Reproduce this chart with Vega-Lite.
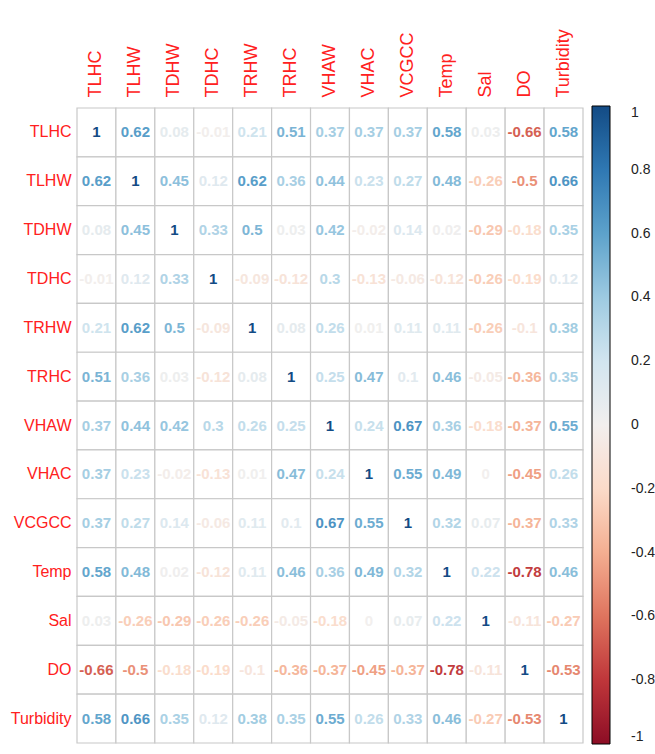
{
  "$schema": "https://vega.github.io/schema/vega-lite/v6.json",
  "autosize": "none",
  "width": 506,
  "height": 635,
  "padding": {"left": 77, "top": 108, "right": 72, "bottom": 11},
  "background": "white",
  "config": {
    "view": {"stroke": null},
    "locale": {"number": {"decimal": ".", "thousands": ",", "grouping": [3], "currency": ["$", ""], "minus": "-"}}
  },
  "data": {"values": [
    {"row":"TLHC","col":"TLHC","r":1},{"row":"TLHC","col":"TLHW","r":0.62},{"row":"TLHC","col":"TDHW","r":0.08},{"row":"TLHC","col":"TDHC","r":-0.01},{"row":"TLHC","col":"TRHW","r":0.21},{"row":"TLHC","col":"TRHC","r":0.51},{"row":"TLHC","col":"VHAW","r":0.37},{"row":"TLHC","col":"VHAC","r":0.37},{"row":"TLHC","col":"VCGCC","r":0.37},{"row":"TLHC","col":"Temp","r":0.58},{"row":"TLHC","col":"Sal","r":0.03},{"row":"TLHC","col":"DO","r":-0.66},{"row":"TLHC","col":"Turbidity","r":0.58},
    {"row":"TLHW","col":"TLHC","r":0.62},{"row":"TLHW","col":"TLHW","r":1},{"row":"TLHW","col":"TDHW","r":0.45},{"row":"TLHW","col":"TDHC","r":0.12},{"row":"TLHW","col":"TRHW","r":0.62},{"row":"TLHW","col":"TRHC","r":0.36},{"row":"TLHW","col":"VHAW","r":0.44},{"row":"TLHW","col":"VHAC","r":0.23},{"row":"TLHW","col":"VCGCC","r":0.27},{"row":"TLHW","col":"Temp","r":0.48},{"row":"TLHW","col":"Sal","r":-0.26},{"row":"TLHW","col":"DO","r":-0.5},{"row":"TLHW","col":"Turbidity","r":0.66},
    {"row":"TDHW","col":"TLHC","r":0.08},{"row":"TDHW","col":"TLHW","r":0.45},{"row":"TDHW","col":"TDHW","r":1},{"row":"TDHW","col":"TDHC","r":0.33},{"row":"TDHW","col":"TRHW","r":0.5},{"row":"TDHW","col":"TRHC","r":0.03},{"row":"TDHW","col":"VHAW","r":0.42},{"row":"TDHW","col":"VHAC","r":-0.02},{"row":"TDHW","col":"VCGCC","r":0.14},{"row":"TDHW","col":"Temp","r":0.02},{"row":"TDHW","col":"Sal","r":-0.29},{"row":"TDHW","col":"DO","r":-0.18},{"row":"TDHW","col":"Turbidity","r":0.35},
    {"row":"TDHC","col":"TLHC","r":-0.01},{"row":"TDHC","col":"TLHW","r":0.12},{"row":"TDHC","col":"TDHW","r":0.33},{"row":"TDHC","col":"TDHC","r":1},{"row":"TDHC","col":"TRHW","r":-0.09},{"row":"TDHC","col":"TRHC","r":-0.12},{"row":"TDHC","col":"VHAW","r":0.3},{"row":"TDHC","col":"VHAC","r":-0.13},{"row":"TDHC","col":"VCGCC","r":-0.06},{"row":"TDHC","col":"Temp","r":-0.12},{"row":"TDHC","col":"Sal","r":-0.26},{"row":"TDHC","col":"DO","r":-0.19},{"row":"TDHC","col":"Turbidity","r":0.12},
    {"row":"TRHW","col":"TLHC","r":0.21},{"row":"TRHW","col":"TLHW","r":0.62},{"row":"TRHW","col":"TDHW","r":0.5},{"row":"TRHW","col":"TDHC","r":-0.09},{"row":"TRHW","col":"TRHW","r":1},{"row":"TRHW","col":"TRHC","r":0.08},{"row":"TRHW","col":"VHAW","r":0.26},{"row":"TRHW","col":"VHAC","r":0.01},{"row":"TRHW","col":"VCGCC","r":0.11},{"row":"TRHW","col":"Temp","r":0.11},{"row":"TRHW","col":"Sal","r":-0.26},{"row":"TRHW","col":"DO","r":-0.1},{"row":"TRHW","col":"Turbidity","r":0.38},
    {"row":"TRHC","col":"TLHC","r":0.51},{"row":"TRHC","col":"TLHW","r":0.36},{"row":"TRHC","col":"TDHW","r":0.03},{"row":"TRHC","col":"TDHC","r":-0.12},{"row":"TRHC","col":"TRHW","r":0.08},{"row":"TRHC","col":"TRHC","r":1},{"row":"TRHC","col":"VHAW","r":0.25},{"row":"TRHC","col":"VHAC","r":0.47},{"row":"TRHC","col":"VCGCC","r":0.1},{"row":"TRHC","col":"Temp","r":0.46},{"row":"TRHC","col":"Sal","r":-0.05},{"row":"TRHC","col":"DO","r":-0.36},{"row":"TRHC","col":"Turbidity","r":0.35},
    {"row":"VHAW","col":"TLHC","r":0.37},{"row":"VHAW","col":"TLHW","r":0.44},{"row":"VHAW","col":"TDHW","r":0.42},{"row":"VHAW","col":"TDHC","r":0.3},{"row":"VHAW","col":"TRHW","r":0.26},{"row":"VHAW","col":"TRHC","r":0.25},{"row":"VHAW","col":"VHAW","r":1},{"row":"VHAW","col":"VHAC","r":0.24},{"row":"VHAW","col":"VCGCC","r":0.67},{"row":"VHAW","col":"Temp","r":0.36},{"row":"VHAW","col":"Sal","r":-0.18},{"row":"VHAW","col":"DO","r":-0.37},{"row":"VHAW","col":"Turbidity","r":0.55},
    {"row":"VHAC","col":"TLHC","r":0.37},{"row":"VHAC","col":"TLHW","r":0.23},{"row":"VHAC","col":"TDHW","r":-0.02},{"row":"VHAC","col":"TDHC","r":-0.13},{"row":"VHAC","col":"TRHW","r":0.01},{"row":"VHAC","col":"TRHC","r":0.47},{"row":"VHAC","col":"VHAW","r":0.24},{"row":"VHAC","col":"VHAC","r":1},{"row":"VHAC","col":"VCGCC","r":0.55},{"row":"VHAC","col":"Temp","r":0.49},{"row":"VHAC","col":"Sal","r":0},{"row":"VHAC","col":"DO","r":-0.45},{"row":"VHAC","col":"Turbidity","r":0.26},
    {"row":"VCGCC","col":"TLHC","r":0.37},{"row":"VCGCC","col":"TLHW","r":0.27},{"row":"VCGCC","col":"TDHW","r":0.14},{"row":"VCGCC","col":"TDHC","r":-0.06},{"row":"VCGCC","col":"TRHW","r":0.11},{"row":"VCGCC","col":"TRHC","r":0.1},{"row":"VCGCC","col":"VHAW","r":0.67},{"row":"VCGCC","col":"VHAC","r":0.55},{"row":"VCGCC","col":"VCGCC","r":1},{"row":"VCGCC","col":"Temp","r":0.32},{"row":"VCGCC","col":"Sal","r":0.07},{"row":"VCGCC","col":"DO","r":-0.37},{"row":"VCGCC","col":"Turbidity","r":0.33},
    {"row":"Temp","col":"TLHC","r":0.58},{"row":"Temp","col":"TLHW","r":0.48},{"row":"Temp","col":"TDHW","r":0.02},{"row":"Temp","col":"TDHC","r":-0.12},{"row":"Temp","col":"TRHW","r":0.11},{"row":"Temp","col":"TRHC","r":0.46},{"row":"Temp","col":"VHAW","r":0.36},{"row":"Temp","col":"VHAC","r":0.49},{"row":"Temp","col":"VCGCC","r":0.32},{"row":"Temp","col":"Temp","r":1},{"row":"Temp","col":"Sal","r":0.22},{"row":"Temp","col":"DO","r":-0.78},{"row":"Temp","col":"Turbidity","r":0.46},
    {"row":"Sal","col":"TLHC","r":0.03},{"row":"Sal","col":"TLHW","r":-0.26},{"row":"Sal","col":"TDHW","r":-0.29},{"row":"Sal","col":"TDHC","r":-0.26},{"row":"Sal","col":"TRHW","r":-0.26},{"row":"Sal","col":"TRHC","r":-0.05},{"row":"Sal","col":"VHAW","r":-0.18},{"row":"Sal","col":"VHAC","r":0},{"row":"Sal","col":"VCGCC","r":0.07},{"row":"Sal","col":"Temp","r":0.22},{"row":"Sal","col":"Sal","r":1},{"row":"Sal","col":"DO","r":-0.11},{"row":"Sal","col":"Turbidity","r":-0.27},
    {"row":"DO","col":"TLHC","r":-0.66},{"row":"DO","col":"TLHW","r":-0.5},{"row":"DO","col":"TDHW","r":-0.18},{"row":"DO","col":"TDHC","r":-0.19},{"row":"DO","col":"TRHW","r":-0.1},{"row":"DO","col":"TRHC","r":-0.36},{"row":"DO","col":"VHAW","r":-0.37},{"row":"DO","col":"VHAC","r":-0.45},{"row":"DO","col":"VCGCC","r":-0.37},{"row":"DO","col":"Temp","r":-0.78},{"row":"DO","col":"Sal","r":-0.11},{"row":"DO","col":"DO","r":1},{"row":"DO","col":"Turbidity","r":-0.53},
    {"row":"Turbidity","col":"TLHC","r":0.58},{"row":"Turbidity","col":"TLHW","r":0.66},{"row":"Turbidity","col":"TDHW","r":0.35},{"row":"Turbidity","col":"TDHC","r":0.12},{"row":"Turbidity","col":"TRHW","r":0.38},{"row":"Turbidity","col":"TRHC","r":0.35},{"row":"Turbidity","col":"VHAW","r":0.55},{"row":"Turbidity","col":"VHAC","r":0.26},{"row":"Turbidity","col":"VCGCC","r":0.33},{"row":"Turbidity","col":"Temp","r":0.46},{"row":"Turbidity","col":"Sal","r":-0.27},{"row":"Turbidity","col":"DO","r":-0.53},{"row":"Turbidity","col":"Turbidity","r":1}
  ]},
  "encoding": {
    "x": {"field": "col", "type": "nominal",
      "sort": ["TLHC","TLHW","TDHW","TDHC","TRHW","TRHC","VHAW","VHAC","VCGCC","Temp","Sal","DO","Turbidity"],
      "scale": {"paddingInner": 0, "paddingOuter": 0},
      "axis": {"orient": "top", "title": null, "domain": false, "ticks": false, "labelAngle": -90, "labelAlign": "left", "labelBaseline": "middle", "labelPadding": 11, "labelFont": "Liberation Sans", "labelFontSize": 18, "labelColor": "#ff2020", "labelLimit": 200}},
    "y": {"field": "row", "type": "nominal",
      "sort": ["TLHC","TLHW","TDHW","TDHC","TRHW","TRHC","VHAW","VHAC","VCGCC","Temp","Sal","DO","Turbidity"],
      "scale": {"paddingInner": 0, "paddingOuter": 0},
      "axis": {"title": null, "domain": false, "ticks": false, "labelPadding": 6, "labelFont": "Liberation Sans", "labelFontSize": 16, "labelColor": "#ff2020", "labelLimit": 200}}
  },
  "layer": [
    {"mark": {"type": "rect", "fill": "white", "stroke": "#c8c8c8", "strokeWidth": 1.2}},
    {"mark": {"type": "text", "font": "Liberation Sans", "fontSize": 15, "fontWeight": "bold"},
      "encoding": {
        "text": {"field": "r", "type": "quantitative", "format": ".2~f"},
        "color": {"field": "r", "type": "quantitative",
          "scale": {"scheme": "redblue", "domain": [-1, 1]},
          "legend": {"orient": "none", "legendX": 515, "legendY": -2, "direction": "vertical", "title": null,
            "gradientLength": 638, "gradientThickness": 18, "gradientStrokeColor": "black", "gradientStrokeWidth": 1,
            "values": [-1, -0.8, -0.6, -0.4, -0.2, 0, 0.2, 0.4, 0.6, 0.8, 1], "format": ".1~f",
            "labelOverlap": false, "labelFont": "Liberation Sans", "labelFontSize": 14, "labelColor": "#222222",
            "labelOffset": 21, "labelAlign": "center"}}
      }}
  ]
}
